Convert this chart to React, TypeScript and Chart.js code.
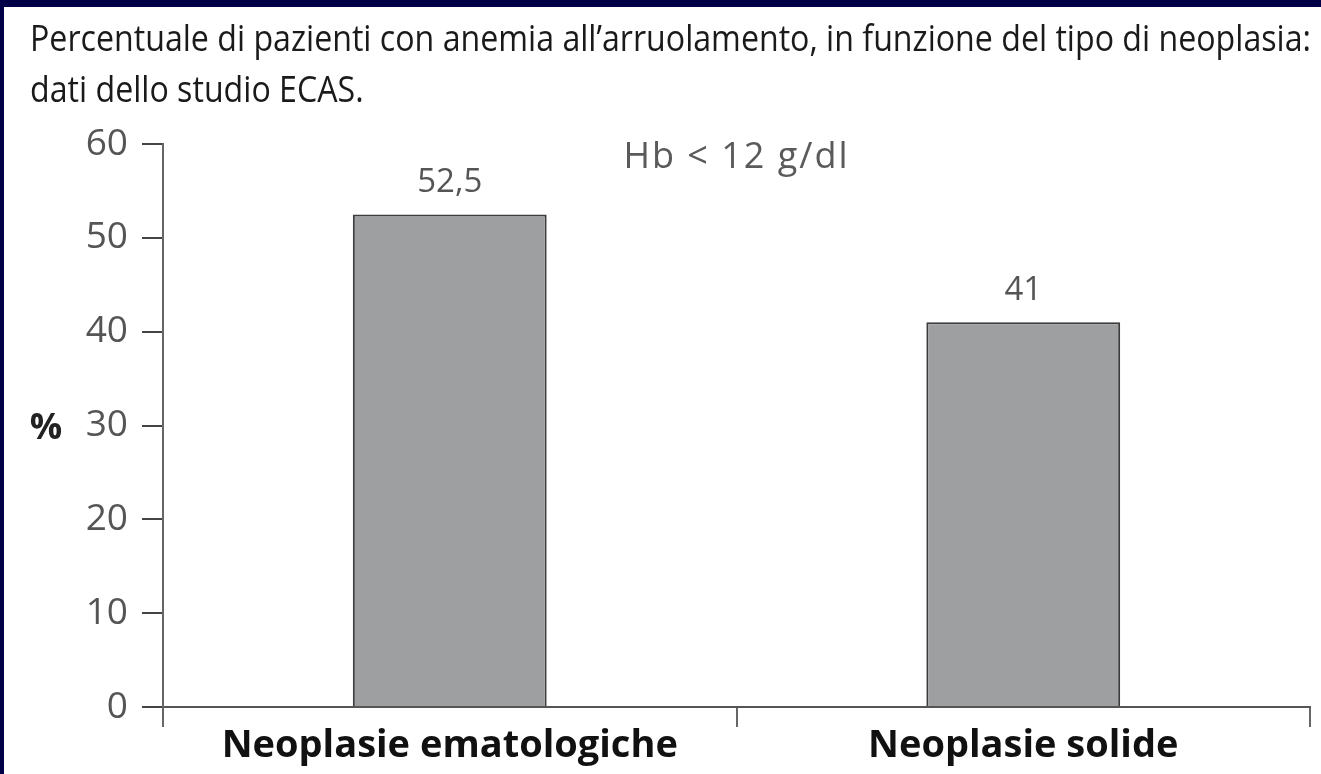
import React, { useEffect, useRef } from "react";
import { Chart, registerables } from "chart.js";

Chart.register(...registerables);

const categories = ["Neoplasie ematologiche", "Neoplasie solide"];
const percentValues = [52.5, 41];
const valueLabels = ["52,5", "41"];
const yTicks = [0, 10, 20, 30, 40, 50, 60];
const titleLines = [
  "Percentuale di pazienti con anemia all\u2019arruolamento, in funzione del tipo di neoplasia:",
  "dati dello studio ECAS.",
];
const annotationText = "Hb < 12 g/dl";
const yAxisLabel = "%";

const NAVY = "#000046";
const FONT = "'Open Sans', 'DejaVu Sans', sans-serif";

const decorPlugin = {
  id: "decor",
  beforeDraw(chart: any) {
    const { ctx, width, height } = chart;
    ctx.save();
    ctx.fillStyle = "#ffffff";
    ctx.fillRect(0, 0, width, height);
    ctx.fillStyle = NAVY;
    ctx.fillRect(0, 0, width, 7);
    ctx.fillRect(0, 0, 4, height);

    // title, horizontally condensed
    ctx.fillStyle = "#1a1a1a";
    ctx.font = `36px ${FONT}`;
    ctx.textBaseline = "alphabetic";
    ctx.textAlign = "left";
    const w = ctx.measureText(titleLines[0]).width;
    const sx = 1281 / w;
    ctx.translate(30, 0);
    ctx.scale(sx, 1);
    ctx.fillText(titleLines[0], 0, 51);
    ctx.fillText(titleLines[1], 0, 102);
    ctx.restore();
  },
  afterDatasetsDraw(chart: any) {
    const { ctx } = chart;
    const meta = chart.getDatasetMeta(0);
    ctx.save();
    ctx.fillStyle = "#555555";
    ctx.font = `33px ${FONT}`;
    ctx.textAlign = "center";
    ctx.textBaseline = "middle";
    meta.data.forEach((bar: any, i: number) => {
      ctx.fillText(valueLabels[i], bar.x, bar.y - 32);
    });
    ctx.restore();
  },
  afterDraw(chart: any) {
    const { ctx, chartArea, scales } = chart;
    ctx.save();
    ctx.fillStyle = "#5a5a5a";
    ctx.font = `36px ${FONT}`;
    (ctx as any).letterSpacing = "2px";
    ctx.textAlign = "center";
    ctx.textBaseline = "middle";
    ctx.fillText(annotationText, (chartArea.left + chartArea.right) / 2, 158);
    (ctx as any).letterSpacing = "0px";

    ctx.fillStyle = "#222222";
    ctx.font = `bold 36px ${FONT}`;
    ctx.fillText(yAxisLabel, 46, scales.y.getPixelForValue(30) + 3);
    ctx.restore();
  },
};

export default function App() {
  const canvasRef = useRef<HTMLCanvasElement | null>(null);

  useEffect(() => {
    if (!canvasRef.current) return;
    const chart = new Chart(canvasRef.current, {
      type: "bar",
      data: {
        labels: categories,
        datasets: [
          {
            data: percentValues,
            backgroundColor: "#9e9fa1",
            borderColor: "#3c3c3c",
            borderWidth: 2,
            categoryPercentage: 1,
            barPercentage: 0.338,
          },
        ],
      },
      options: {
        responsive: false,
        animation: false,
        layout: { padding: { left: 0, top: 144, right: 11, bottom: 0 } },
        plugins: {
          legend: { display: false },
          title: { display: false },
          tooltip: { enabled: false },
        },
        scales: {
          x: {
            offset: true,
            grid: {
              display: true,
              offset: true,
              drawOnChartArea: false,
              drawTicks: true,
              tickLength: 20,
              color: "#666666",
              lineWidth: 2,
            },
            border: { display: true, color: "#555555", width: 2 },
            ticks: {
              color: "#111111",
              font: { family: FONT, size: 38, weight: "bold", lineHeight: 1 },
              padding: 0,
              maxRotation: 0,
            },
            afterFit: (s: any) => {
              s.height = 67;
            },
          },
          y: {
            min: 0,
            max: 60,
            afterBuildTicks: (s: any) => {
              s.ticks = yTicks.map((v) => ({ value: v }));
            },
            grid: {
              display: true,
              drawOnChartArea: false,
              drawTicks: true,
              tickLength: 21,
              color: "#444444",
              lineWidth: 2,
            },
            border: { display: true, color: "#666666", width: 2 },
            ticks: {
              color: "#555555",
              font: { family: FONT, size: 37 },
              padding: 14,
            },
            afterFit: (s: any) => {
              s.width = 163;
            },
          },
        },
      },
      plugins: [decorPlugin],
    });
    return () => chart.destroy();
  }, []);

  return (
    <div style={{ position: "fixed", left: 0, top: 0, width: 1321, height: 774, background: "#fff" }}>
      <canvas ref={canvasRef} width={1321} height={774} style={{ display: "block" }} />
    </div>
  );
}
